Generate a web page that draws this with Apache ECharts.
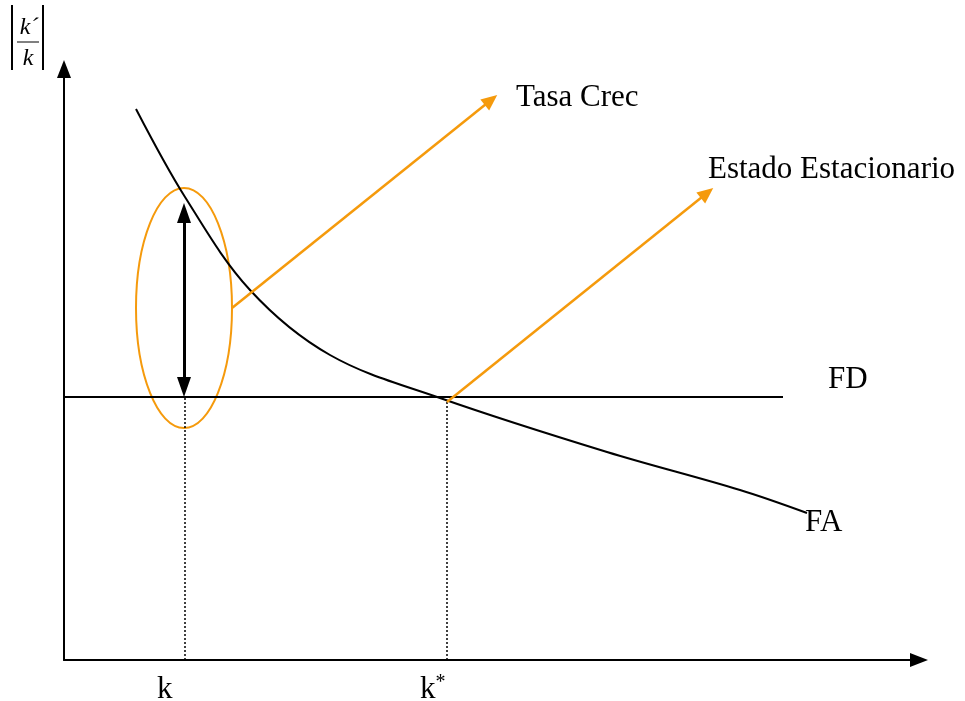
<!DOCTYPE html>
<html>
<head>
<meta charset="utf-8">
<script src="https://cdn.jsdelivr.net/npm/echarts@6/dist/echarts.min.js"></script>
<style>
  html, body { margin: 0; padding: 0; background: #fff; }
  #chart { width: 965px; height: 701px; }
</style>
</head>
<body>
<div id="chart"></div>
<script>
// FA curve (k, k'/k)
const faCurve = [
    [72, 551], [121, 463], [186, 370], [266, 305], [376, 262], [543, 208], [676, 170], [743, 147]
];
const fdLine = [[0, 263], [719, 263]];
const kValue = 121;
const kStar = 383;
const fdLevel = 263;
const growthArrow = [[120, 447], [120, 273]];
const ellipse = [[120, 352, 48, 120]];
const pointers = [
    [[168, 352], [427, 560]],
    [[383, 258], [643, 467]]
];
const labels = [
    [452, 562, 'Tasa Crec'],
    [644, 490, 'Estado Estacionario'],
    [764, 280, 'FD'],
    [741, 137, 'FA'],
    [93, -30, 'k'],
    [356, -30, 'k{sup|*}']
];

const serif = 'Liberation Serif, Times New Roman, serif';
const orange = '#f59a0c';

const chart = echarts.init(document.getElementById('chart'));

chart.setOption({
    animation: false,
    backgroundColor: '#fff',
    grid: { left: 64, top: 69, right: 46, bottom: 41 },
    xAxis: {
        type: 'value', min: 0, max: 855,
        splitLine: { show: false }, axisTick: { show: false }, axisLabel: { show: false },
        axisLine: { lineStyle: { color: '#000', width: 2 }, symbol: ['none', 'triangle'], symbolSize: [14, 18] }
    },
    yAxis: {
        type: 'value', min: 0, max: 591,
        splitLine: { show: false }, axisTick: { show: false }, axisLabel: { show: false },
        axisLine: { lineStyle: { color: '#000', width: 2 }, symbol: ['none', 'triangle'], symbolSize: [14, 18] }
    },
    graphic: [
        { type: 'line', shape: { x1: 12, y1: 5, x2: 12, y2: 70 }, style: { stroke: '#000', lineWidth: 2 } },
        { type: 'line', shape: { x1: 43, y1: 5, x2: 43, y2: 70 }, style: { stroke: '#000', lineWidth: 2 } },
        { type: 'line', shape: { x1: 17, y1: 42, x2: 39, y2: 42 }, style: { stroke: '#000', lineWidth: 1 } },
        { type: 'text', x: 29, y: 28, style: { text: 'k´', font: 'italic 24px ' + serif, fill: '#000', align: 'center', verticalAlign: 'middle' } },
        { type: 'text', x: 28, y: 59, style: { text: 'k', font: 'italic 24px ' + serif, fill: '#000', align: 'center', verticalAlign: 'middle' } }
    ],
    series: [
        {
            // FA: one smooth polyline through the read points
            type: 'custom', data: [[0]], clip: false, z: 3,
            renderItem: (params, api) => ({
                type: 'polyline',
                shape: { points: faCurve.map(p => api.coord(p)), smooth: 0.35 },
                style: { fill: 'none', stroke: '#000', lineWidth: 2 }
            })
        },
        {
            type: 'line', data: fdLine, symbol: 'none',
            lineStyle: { color: '#000', width: 2 },
            markLine: {
                silent: true, symbol: ['none', 'none'], label: { show: false },
                lineStyle: { color: '#000', width: 1.5, type: [2, 2] },
                data: [
                    [{ coord: [kValue, 0] }, { coord: [kValue, fdLevel] }],
                    [{ coord: [kStar, 0] }, { coord: [kStar, fdLevel - 3] }]
                ]
            }
        },
        {
            type: 'line', data: [], symbol: 'none',
            markLine: {
                silent: true, symbol: ['triangle', 'triangle'], symbolSize: [14, 20], label: { show: false },
                lineStyle: { color: '#000', width: 3, type: 'solid' },
                data: [[{ coord: growthArrow[0] }, { coord: growthArrow[1] }]]
            }
        },
        {
            type: 'line', data: [], symbol: 'none',
            markLine: {
                silent: true, symbol: ['none', 'triangle'], symbolSize: [14, 16], label: { show: false },
                lineStyle: { color: orange, width: 2.5, type: 'solid' },
                data: pointers.map(p => [{ coord: p[0] }, { coord: p[1] }])
            }
        },
        {
            type: 'custom', data: ellipse, clip: false,
            renderItem: (params, api) => {
                const c = api.coord([api.value(0), api.value(1)]);
                const s = api.size([api.value(2), api.value(3)]);
                return {
                    type: 'ellipse',
                    shape: { cx: c[0], cy: c[1], rx: s[0], ry: s[1] },
                    style: { fill: 'none', stroke: orange, lineWidth: 2 }
                };
            }
        },
        {
            type: 'custom', clip: false, silent: true,
            data: labels.map(l => [l[0], l[1]]),
            renderItem: (params, api) => {
                const c = api.coord([api.value(0), api.value(1)]);
                return {
                    type: 'text', x: c[0], y: c[1],
                    style: {
                        text: labels[params.dataIndex][2],
                        font: '31px ' + serif, fill: '#000',
                        align: 'left', verticalAlign: 'middle',
                        rich: { sup: { font: '20px ' + serif, fill: '#000', verticalAlign: 'top', padding: [0, 0, 14, 0] } }
                    }
                };
            }
        }
    ]
});
</script>
</body>
</html>
